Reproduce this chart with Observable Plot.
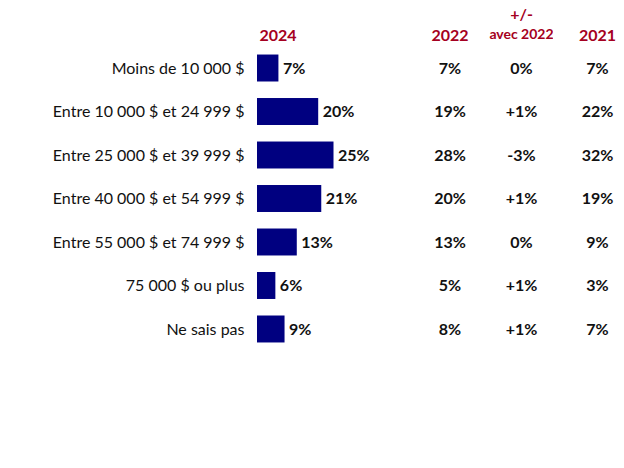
<!DOCTYPE html>
<html><head><meta charset="utf-8">
<script src="https://cdn.jsdelivr.net/npm/d3@7"></script>
<script src="https://cdn.jsdelivr.net/npm/@observablehq/plot@0.6"></script>
<style>
body{margin:0;background:#fff;}
#row{display:flex;width:624px;height:468px;font-family:Lato,sans-serif;}
</style></head>
<body><div id="row"></div>
<script>
const categories = ["Moins de 10 000 $","Entre 10 000 $ et 24 999 $","Entre 25 000 $ et 39 999 $","Entre 40 000 $ et 54 999 $","Entre 55 000 $ et 74 999 $","75 000 $ ou plus","Ne sais pas"];
const values2024 = [7,20,25,21,13,6,9];
const values2022 = [7,19,28,20,13,5,8];
const diff2022 = ["0%","+1%","-3%","+1%","0%","+1%","+1%"];
const values2021 = [7,22,32,19,9,3,7];
const headers = ["2024","2022","+/-","avec 2022","2021"];

const H = 468, MT = 38, MB = 109;
const red = "#a50021", navy = "#000080", ink = "#111";
const font = "Lato, sans-serif";
const yOpts = {type:"band", domain: categories, padding: 0.38, round: false};
const rows = categories.map((c,i)=>({cat:c, v24:values2024[i], v22:values2022[i], d:diff2022[i], v21:values2021[i]}));

const A = Plot.plot({
  width: 410, height: H, marginLeft: 257, marginRight: 0, marginTop: MT, marginBottom: MB,
  style: {fontFamily: font, fontSize: "16px", color: ink},
  x: {domain:[0,50], axis: null},
  y: {...yOpts, label: null},
  marks: [
    Plot.axisY({tickSize:0, tickPadding:13, label:null, fontSize:16}),
    Plot.barX(rows, {x:"v24", y:"cat", fill: navy}),
    Plot.text(rows, {x:"v24", y:"cat", text: d=>d.v24+"%", textAnchor:"start", dx:4, fontWeight:"bold", fontSize:16, fill: ink}),
    Plot.text([headers[0]], {frameAnchor:"top-left", text: d=>d, lineAnchor:"bottom", dy:2, dx:2, fill: red, fontWeight:"bold", fontSize:16})
  ]
});

function col(key, header, w, ml){
  return Plot.plot({
    width: w, height: H, marginLeft: ml, marginRight: 0, marginTop: MT, marginBottom: MB,
    style: {fontFamily: font},
    y: {...yOpts, axis: null},
    marks: [
      Plot.text(rows, {y:"cat", frameAnchor:"middle", text: d=>d[key]+"%", fontWeight:"bold", fontSize:16, fill: ink}),
      Plot.text([header], {frameAnchor:"top", text: d=>d, lineAnchor:"bottom", dy:2, fill: red, fontWeight:"bold", fontSize:16})
    ]
  });
}
const B = col("v22", headers[1], 79, 0);
const C = Plot.plot({
  width: 64, height: H, marginLeft: 0, marginRight: 0, marginTop: MT, marginBottom: MB,
  style: {fontFamily: font},
  y: {...yOpts, axis: null},
  marks: [
    Plot.text(rows, {y:"cat", frameAnchor:"middle", text:"d", fontWeight:"bold", fontSize:16, fill: ink}),
    Plot.text([headers[2]], {frameAnchor:"top", text:d=>d, lineAnchor:"bottom", dy:-19, fill: red, fontWeight:"bold", fontSize:16}),
    Plot.text([headers[3]], {frameAnchor:"top", text:d=>d, lineAnchor:"bottom", dy:0, fill: red, fontWeight:"bold", fontSize:14})
  ]
});
const D = col("v21", headers[4], 71, 17);
const row = document.getElementById("row");
[A,B,C,D].forEach(p=>row.appendChild(p));
</script></body></html>
